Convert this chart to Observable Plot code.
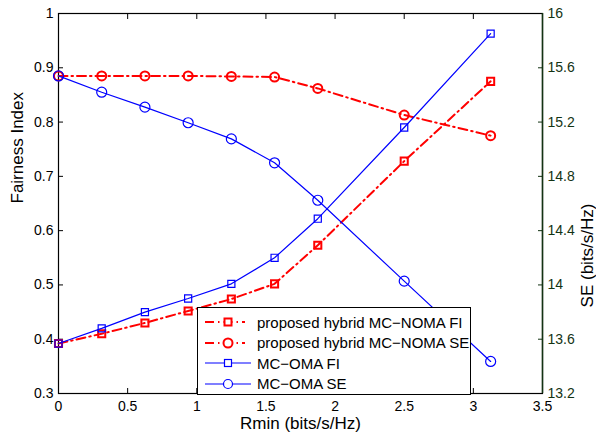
<!DOCTYPE html>
<html><head><meta charset="utf-8">
<script src="https://cdn.jsdelivr.net/npm/d3@7"></script>
<script src="https://cdn.jsdelivr.net/npm/@observablehq/plot@0.6"></script>
<style>
body{margin:0;background:#fff;}
#chart{position:relative;width:596px;height:439px;font-family:"Liberation Sans",Arial,sans-serif;}
#legend{position:absolute;left:197px;top:307px;width:272px;height:86px;border:1px solid #000;background:#fff;box-sizing:content-box;}
.entry{position:absolute;left:0;height:20px;display:flex;align-items:center;font-size:15px;color:#000;white-space:nowrap;}
.entry svg{display:block;margin-left:7px;margin-right:6px;}
</style>
</head><body><div id="chart"></div>
<script>
// ---- data ----
const rmin = [0, 0.3125, 0.625, 0.9375, 1.25, 1.5625, 1.875, 2.5, 3.125];
const hybridFI = [0.392, 0.410, 0.430, 0.452, 0.474, 0.502, 0.573, 0.728, 0.875];
const hybridSE = [15.54, 15.54, 15.54, 15.54, 15.536, 15.532, 15.448, 15.252, 15.10];
const omaFI = [0.392, 0.420, 0.450, 0.475, 0.502, 0.550, 0.622, 0.790, 0.963];
const omaSE = [15.54, 15.42, 15.31, 15.195, 15.076, 14.90, 14.624, 14.028, 13.436];
const xTicks = [0, 0.5, 1, 1.5, 2, 2.5, 3, 3.5];
const fiTicks = [0.3, 0.4, 0.5, 0.6, 0.7, 0.8, 0.9, 1];
const seTicks = [13.2, 13.6, 14, 14.4, 14.8, 15.2, 15.6, 16];
const seriesNames = ["proposed hybrid MC\u2212NOMA FI", "proposed hybrid MC\u2212NOMA SE", "MC\u2212OMA FI", "MC\u2212OMA SE"];
const xLabel = "Rmin (bits/s/Hz)";
const yLabel = "Fairness Index";
const y2Label = "SE (bits/s/Hz)";

// ---- styles ----
const RED = "#ff0000", BLUE = "#0000ff", GREEN = "#133313";
const DASH = "9,4,1.5,4";
const FI_DOMAIN = [0.3, 1], SE_DOMAIN = [13.2, 16];
const se2fi = v => FI_DOMAIN[0] + (v - SE_DOMAIN[0]) * (FI_DOMAIN[1] - FI_DOMAIN[0]) / (SE_DOMAIN[1] - SE_DOMAIN[0]);
const fi2se = v => SE_DOMAIN[0] + (v - FI_DOMAIN[0]) * (SE_DOMAIN[1] - SE_DOMAIN[0]) / (FI_DOMAIN[1] - FI_DOMAIN[0]);

const mk = (vals, conv) => rmin.map((x, i) => ({x, y: conv ? conv(vals[i]) : vals[i]}));
const hFI = mk(hybridFI), hSE = mk(hybridSE, se2fi), oFI = mk(omaFI), oSE = mk(omaSE, se2fi);

const font = "Liberation Sans, Arial, sans-serif";

const chart = Plot.plot({
  width: 596, height: 439,
  marginLeft: 58, marginRight: 54, marginTop: 13, marginBottom: 46,
  style: {fontFamily: font, fontSize: "14px", background: "#fff", overflow: "visible"},
  x: {domain: [0, 3.5]},
  y: {domain: FI_DOMAIN},
  marks: [
    // bottom axis
    Plot.axisX({anchor: "bottom", ticks: xTicks, tickSize: -5, tickPadding: 13, tickFormat: d => String(d), label: null, fontSize: 14, stroke: "#000", color: "#000"}),
    // top axis ticks only
    Plot.axisX({anchor: "top", ticks: xTicks, tickSize: -5, tickFormat: () => "", label: null}),
    // left axis
    Plot.axisY({anchor: "left", ticks: fiTicks, tickSize: -5, tickPadding: 10, tickFormat: d => d === 1 ? "1" : d.toFixed(1), label: null, fontSize: 14}),
    // right axis (SE) mapped onto FI scale
    Plot.axisY({anchor: "right", ticks: seTicks.map(se2fi), tickSize: -5, tickPadding: 10,
      tickFormat: d => { const v = Math.round(fi2se(d) * 10) / 10; return Number.isInteger(v) ? String(v) : v.toFixed(1); },
      label: null, stroke: GREEN, color: GREEN, fontSize: 14}),
    // frame
    Plot.frame({stroke: "#000", strokeWidth: 1.2}),
    Plot.ruleX([3.5], {stroke: GREEN, strokeWidth: 1.5}),
    // axis titles
    Plot.text([xLabel], {frameAnchor: "bottom", dy: 35, text: d => d, fontSize: 17, fill: "#000"}),
    Plot.text([yLabel], {frameAnchor: "left", dx: -41, rotate: -90, text: d => d, fontSize: 17, fill: "#000"}),
    Plot.text([y2Label], {frameAnchor: "right", dx: 45, rotate: -90, text: d => d, fontSize: 17, fill: "#000"}),
    // series
    Plot.line(hFI, {x: "x", y: "y", stroke: RED, strokeWidth: 2, strokeDasharray: DASH}),
    Plot.dot(hFI, {x: "x", y: "y", symbol: "square", r: 4, stroke: RED, strokeWidth: 2, fill: "none"}),
    Plot.line(hSE, {x: "x", y: "y", stroke: RED, strokeWidth: 2, strokeDasharray: DASH}),
    Plot.dot(hSE, {x: "x", y: "y", symbol: "circle", r: 4.5, stroke: RED, strokeWidth: 2, fill: "none"}),
    Plot.line(oFI, {x: "x", y: "y", stroke: BLUE, strokeWidth: 1.2}),
    Plot.dot(oFI, {x: "x", y: "y", symbol: "square", r: 4, stroke: BLUE, strokeWidth: 1.2, fill: "none"}),
    Plot.line(oSE, {x: "x", y: "y", stroke: BLUE, strokeWidth: 1.2}),
    Plot.dot(oSE, {x: "x", y: "y", symbol: "circle", r: 5, stroke: BLUE, strokeWidth: 1.2, fill: "none"})
  ]
});
const root = document.getElementById("chart");
root.appendChild(chart);

// ---- legend ----
const legendStyles = [
  {color: RED, dash: DASH, w: 2, sym: "square"},
  {color: RED, dash: DASH, w: 2, sym: "circle"},
  {color: BLUE, dash: null, w: 1.2, sym: "square"},
  {color: BLUE, dash: null, w: 1.2, sym: "circle"}
];
const legend = document.createElement("div");
legend.id = "legend";
seriesNames.forEach((name, i) => {
  const s = legendStyles[i];
  const e = document.createElement("div");
  e.className = "entry";
  e.style.top = (4 + i * 20.5) + "px";
  const svgNS = "http://www.w3.org/2000/svg";
  const svg = document.createElementNS(svgNS, "svg");
  svg.setAttribute("width", 46); svg.setAttribute("height", 20);
  const ln = document.createElementNS(svgNS, "line");
  ln.setAttribute("x1", 0); ln.setAttribute("x2", s.dash ? 40 : 46);
  ln.setAttribute("y1", 10); ln.setAttribute("y2", 10);
  ln.setAttribute("stroke", s.color); ln.setAttribute("stroke-width", s.w);
  if (s.dash) ln.setAttribute("stroke-dasharray", s.dash);
  svg.appendChild(ln);
  let m;
  if (s.sym === "square") {
    m = document.createElementNS(svgNS, "rect");
    m.setAttribute("x", 19.5); m.setAttribute("y", 6.5); m.setAttribute("width", 7); m.setAttribute("height", 7);
  } else {
    m = document.createElementNS(svgNS, "circle");
    m.setAttribute("cx", 23); m.setAttribute("cy", 10); m.setAttribute("r", 4.5);
  }
  m.setAttribute("fill", "#fff"); m.setAttribute("stroke", s.color); m.setAttribute("stroke-width", s.w);
  svg.appendChild(m);
  e.appendChild(svg);
  const t = document.createElement("span");
  t.textContent = name;
  e.appendChild(t);
  legend.appendChild(e);
});
root.appendChild(legend);
</script>
</body></html>
